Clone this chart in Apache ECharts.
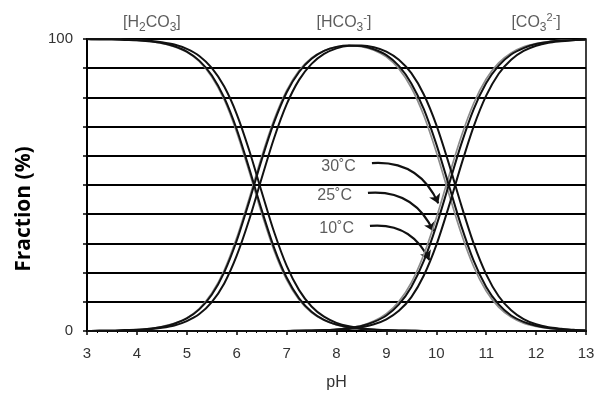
<!DOCTYPE html>
<html lang="en">
<head>
<meta charset="UTF-8">
<title>Carbonate species vs pH</title>
<script src="https://cdn.jsdelivr.net/npm/echarts@6/dist/echarts.min.js"></script>
<style>html,body{margin:0;padding:0;background:#fff;}</style>
</head>
<body>
<div id="chart" style="width:596px;height:394px;"></div>
<script>
// pH grid shared by all curves
const pH = [3, 3.25, 3.5, 3.75, 4, 4.25, 4.5, 4.75, 5, 5.25, 5.5, 5.75, 6, 6.25, 6.5, 6.75, 7, 7.25, 7.5, 7.75,
            8, 8.25, 8.5, 8.75, 9, 9.25, 9.5, 9.75, 10, 10.25, 10.5, 10.75, 11, 11.25, 11.5, 11.75, 12, 12.25, 12.5, 12.75, 13];

// fraction (%), one array per species and temperature
const h2co3_30 = [100, 99.9, 99.9, 99.7, 99.5, 99.2, 98.5, 97.4, 95.5, 92.3, 87.1, 79.2, 68.1, 54.6, 40.3, 27.5, 17.6, 10.7, 6.3, 3.7,
                  2.1, 1.2, 0.7, 0.4, 0.2, 0.1, 0.1, 0, 0, 0, 0, 0, 0, 0, 0, 0, 0, 0, 0, 0, 0];
const h2co3_25 = [100, 99.9, 99.9, 99.7, 99.6, 99.2, 98.6, 97.5, 95.7, 92.6, 87.6, 79.9, 69.1, 55.7, 41.5, 28.5, 18.3, 11.2, 6.6, 3.8,
                  2.2, 1.2, 0.7, 0.4, 0.2, 0.1, 0.1, 0, 0, 0, 0, 0, 0, 0, 0, 0, 0, 0, 0, 0, 0];
const h2co3_10 = [100, 99.9, 99.9, 99.8, 99.7, 99.4, 98.9, 98.1, 96.6, 94.2, 90.1, 83.7, 74.3, 61.9, 47.7, 33.9, 22.4, 14.0, 8.4, 4.9,
                  2.8, 1.6, 0.9, 0.5, 0.3, 0.2, 0.1, 0, 0, 0, 0, 0, 0, 0, 0, 0, 0, 0, 0, 0, 0];

const hco3_30 = [0, 0.1, 0.1, 0.3, 0.5, 0.8, 1.5, 2.6, 4.5, 7.7, 12.9, 20.8, 31.9, 45.4, 59.7, 72.4, 82.3, 89.2, 93.5, 96.0,
                 97.3, 97.7, 97.4, 96.2, 93.9, 89.8, 83.3, 73.8, 61.3, 47.1, 33.4, 22.0, 13.7, 8.2, 4.8, 2.7, 1.6, 0.9, 0.5, 0.3, 0.2];
const hco3_25 = [0, 0.1, 0.1, 0.3, 0.4, 0.8, 1.4, 2.5, 4.3, 7.4, 12.4, 20.1, 30.9, 44.3, 58.6, 71.5, 81.7, 88.7, 93.2, 95.9,
                 97.3, 97.8, 97.6, 96.5, 94.5, 90.8, 84.8, 76.0, 64.0, 50.0, 36.0, 24.0, 15.1, 9.1, 5.3, 3.1, 1.8, 1.0, 0.6, 0.3, 0.2];
const hco3_10 = [0, 0.1, 0.1, 0.2, 0.3, 0.6, 1.1, 1.9, 3.4, 5.8, 9.9, 16.3, 25.8, 38.1, 52.3, 66.1, 77.6, 86.0, 91.5, 94.9,
                 96.8, 97.7, 97.8, 97.2, 95.7, 92.9, 88.3, 81.0, 70.6, 57.4, 43.1, 29.9, 19.4, 11.9, 7.1, 4.1, 2.3, 1.3, 0.8, 0.4, 0.2];

const co3_30 = [0, 0, 0, 0, 0, 0, 0, 0, 0, 0, 0, 0, 0, 0, 0, 0, 0, 0.1, 0.2, 0.3,
                0.6, 1.1, 1.9, 3.4, 5.9, 10.1, 16.6, 26.2, 38.7, 52.9, 66.6, 78.0, 86.3, 91.8, 95.2, 97.3, 98.4, 99.1, 99.5, 99.7, 99.8];
const co3_25 = [0, 0, 0, 0, 0, 0, 0, 0, 0, 0, 0, 0, 0, 0, 0, 0, 0, 0.1, 0.2, 0.3,
                0.5, 1.0, 1.7, 3.1, 5.3, 9.1, 15.1, 24.0, 36.0, 50.0, 64.0, 76.0, 84.9, 90.9, 94.7, 96.9, 98.3, 99.0, 99.4, 99.7, 99.8];
const co3_10 = [0, 0, 0, 0, 0, 0, 0, 0, 0, 0, 0, 0, 0, 0, 0, 0, 0, 0.1, 0.1, 0.2,
                0.4, 0.7, 1.3, 2.3, 4.0, 6.9, 11.6, 19.0, 29.4, 42.6, 56.9, 70.1, 80.6, 88.1, 92.9, 95.9, 97.7, 98.7, 99.2, 99.6, 99.8];

// species labels above the plot: [pH, fraction, text]
const speciesLabels = [
    [4.3, 100, '[H{sub|2}CO{sub|3}]'],
    [8.15, 100, '[HCO{sub|3}{sup|-}]'],
    [12.0, 100, '[CO{sub|3}{sup|2-}]']
];

// temperature annotations: label and arrow from start to tip (pH, fraction)
const tempNames = ['30˚C', '25˚C', '10˚C'];
const arrowStart = [[8.71, 57.5], [8.63, 47.3], [8.67, 36.0]];
const arrowEnd = [[10.04, 43.7], [9.94, 34.2], [9.86, 24.3]];

const chart = echarts.init(document.getElementById('chart'));

function curve(values, color, width) {
    return {
        type: 'line',
        data: pH.map((x, i) => [x, values[i]]),
        smooth: 0.3,
        showSymbol: false,
        silent: true,
        lineStyle: { color: color, width: width }
    };
}

const grey = '#8c8c8c';
const black = '#111';
const txt = '#333';
const font = 'Liberation Sans';

const series = [
    curve(h2co3_30, grey, 1.7), curve(hco3_30, grey, 1.7), curve(co3_30, grey, 1.7),
    curve(h2co3_25, black, 2), curve(hco3_25, black, 2), curve(co3_25, black, 2),
    curve(h2co3_10, black, 2), curve(hco3_10, black, 2), curve(co3_10, black, 2),
    {
        type: 'scatter',
        symbolSize: 0,
        silent: true,
        data: speciesLabels,
        label: {
            show: true,
            position: 'top',
            distance: 5,
            formatter: p => p.value[2],
            color: txt,
            fontFamily: font,
            fontSize: 16,
            lineHeight: 22,
            rich: {
                sub: { fontSize: 12, lineHeight: 12, verticalAlign: 'bottom', color: txt, fontFamily: font },
                sup: { fontSize: 11, lineHeight: 12, verticalAlign: 'top', color: txt, fontFamily: font }
            }
        }
    },
    {
        type: 'scatter',
        symbolSize: 0,
        silent: true,
        data: arrowStart.map((p, i) => [p[0], p[1], tempNames[i]]),
        label: {
            show: true,
            position: 'left',
            distance: 16,
            offset: [0, 3],
            formatter: p => p.value[2],
            color: txt,
            fontFamily: font,
            fontSize: 16
        }
    },
    {
        type: 'lines',
        coordinateSystem: 'cartesian2d',
        silent: true,
        symbol: ['none', 'arrow'],
        symbolSize: 9,
        lineStyle: { color: black, width: 2.2, opacity: 1, curveness: 0.35 },
        data: arrowStart.map((p, i) => ({ coords: [p, arrowEnd[i]] }))
    }
];

chart.setOption({
    animation: false,
    backgroundColor: '#fff',
    grid: {
        left: 87, right: 10, top: 39, bottom: 63, outerBoundsMode: 'none',
        show: true, borderColor: '#000', borderWidth: 1.5
    },
    xAxis: {
        type: 'value',
        min: 3,
        max: 13,
        interval: 1,
        name: 'pH',
        nameLocation: 'middle',
        nameGap: 44,
        nameTextStyle: { color: txt, fontSize: 16, fontFamily: font },
        axisLine: { lineStyle: { color: '#000', width: 2 } },
        axisTick: { length: 4, lineStyle: { color: '#000', width: 1.5 } },
        minorTick: { show: true, splitNumber: 5, length: 2, lineStyle: { color: '#000' } },
        splitLine: { show: false },
        axisLabel: { color: txt, fontSize: 15, fontFamily: font, margin: 15 }
    },
    yAxis: {
        type: 'value',
        min: 0,
        max: 100,
        interval: 10,
        axisLine: { show: true, lineStyle: { color: '#000', width: 2 } },
        axisTick: { show: true, length: 4, lineStyle: { color: '#000', width: 1.5 } },
        splitLine: { show: true, lineStyle: { color: '#000', width: 1.8 } },
        axisLabel: {
            color: txt, fontSize: 15, fontFamily: font, margin: 14,
            formatter: v => (v === 0 || v === 100) ? String(v) : ''
        }
    },
    graphic: [{
        type: 'text',
        x: 24,
        y: 209,
        rotation: Math.PI / 2,
        style: {
            text: 'Fraction (%)',
            fill: '#000',
            font: 'bold 21px "Open Sans"',
            textAlign: 'center',
            textVerticalAlign: 'middle'
        }
    }],
    series: series
});
</script>
</body>
</html>
